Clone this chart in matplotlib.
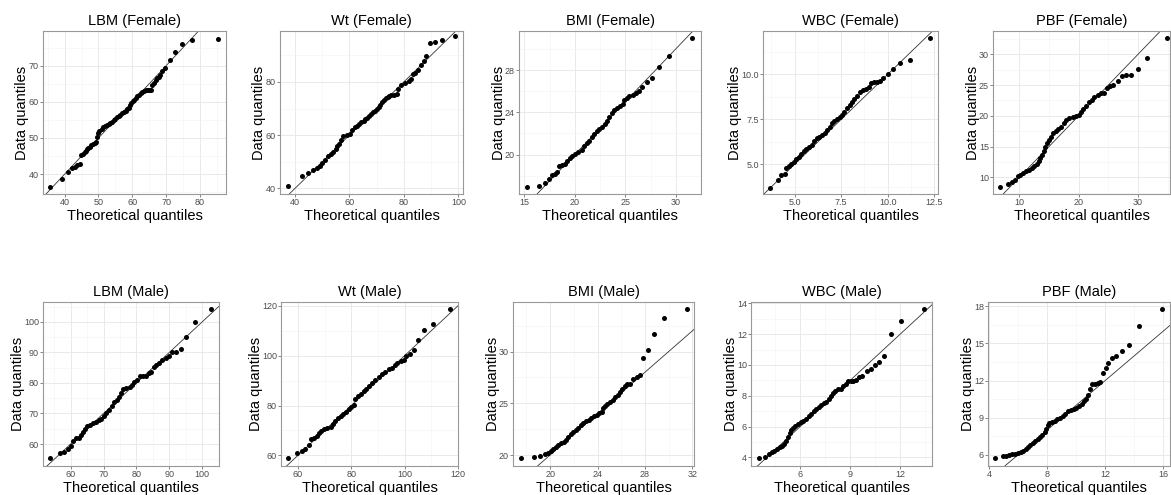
import matplotlib.pyplot as plt

plt.rcParams['font.family'] = ['Liberation Sans', 'DejaVu Sans']

# theoretical vs. data quantiles for each variable
lbm_f_theo = [35.8, 39.2, 41.0, 42.3, 43.0, 43.7, 44.4, 44.9, 45.4, 45.9, 46.3, 46.6, 47.0, 47.4, 47.9, 48.4,
              48.9, 49.4, 49.7, 50.0, 50.3, 50.9, 51.3, 51.8, 52.4, 53.0, 53.5, 54.0, 54.5, 55.0, 55.5, 56.0,
              56.5, 57.0, 57.5, 58.0, 58.5, 58.9, 59.3, 59.7, 60.1, 60.5, 61.0, 61.5, 62.0, 62.5, 63.0, 63.5,
              64.0, 64.5, 65.0, 65.5, 65.8, 66.4, 67.0, 67.4, 67.8, 68.3, 68.8, 69.8, 71.1, 72.5, 74.6, 77.7, 85.2]
lbm_f_data = [36.4, 38.7, 40.6, 41.7, 42.0, 42.4, 42.8, 45.3, 45.7, 46.1, 46.5, 46.9, 47.2, 47.5, 48.0, 48.4,
              48.7, 48.9, 50.3, 51.4, 51.9, 52.6, 53.0, 53.3, 53.5, 53.8, 54.1, 54.5, 54.9, 55.3, 55.7, 56.0,
              56.4, 56.8, 57.2, 57.6, 57.9, 58.4, 59.0, 59.6, 60.1, 60.5, 61.2, 61.6, 62.0, 62.4, 62.8, 63.1,
              63.2, 63.2, 63.3, 63.4, 64.6, 65.3, 66.1, 66.6, 67.0, 67.5, 68.6, 69.4, 71.6, 73.7, 75.9, 77.0, 77.5]

wt_f_theo = [37.5, 42.5, 44.9, 46.7, 48.1, 49.2, 50.1, 51.0, 52.0, 53.3, 54.1, 55.0, 55.5, 56.0, 56.9, 57.8,
             59.0, 60.2, 61.1, 62.1, 62.9, 63.6, 64.4, 65.2, 65.8, 66.4, 67.2, 68.0, 68.7, 69.4, 70.1, 70.7,
             71.3, 71.9, 72.7, 73.4, 74.0, 74.6, 75.4, 76.2, 77.4, 78.0, 79.0, 80.5, 81.7, 82.6, 83.3, 84.2,
             85.2, 86.3, 87.2, 88.2, 89.7, 91.3, 94.0, 98.8]
wt_f_data = [41.0, 44.5, 45.7, 46.8, 47.5, 48.6, 49.6, 50.7, 52.1, 52.8, 53.6, 54.8, 55.8, 56.7, 58.0, 59.5,
             60.1, 60.5, 61.8, 63.0, 63.6, 64.2, 64.8, 65.3, 65.9, 66.5, 67.2, 67.8, 68.5, 69.1, 69.9, 70.6,
             71.5, 72.5, 73.3, 74.0, 74.3, 74.6, 74.9, 75.2, 75.6, 77.5, 79.0, 79.5, 80.4, 80.9, 83.1, 83.5,
             84.4, 86.5, 87.8, 89.7, 94.7, 94.8, 95.7, 97.4]

bmi_f_theo = [15.23, 16.45, 17.0, 17.44, 17.77, 18.04, 18.27, 18.44, 18.7, 19.03, 19.26, 19.53, 19.76, 20.02,
              20.35, 20.68, 20.95, 21.18, 21.44, 21.67, 21.9, 22.17, 22.43, 22.7, 22.96, 23.23, 23.42, 23.66,
              23.89, 24.15, 24.48, 24.75, 24.88, 25.14, 25.41, 25.74, 26.03, 26.36, 26.7, 27.12, 27.62, 28.31,
              29.34, 31.65]
bmi_f_data = [16.9, 17.0, 17.33, 17.68, 18.1, 18.2, 18.3, 18.9, 19.0, 19.1, 19.36, 19.65, 19.9, 20.06,
              20.2, 20.47, 20.8, 21.07, 21.32, 21.64, 21.96, 22.2, 22.43, 22.65, 22.9, 23.22, 23.54, 23.92,
              24.23, 24.42, 24.55, 24.74, 25.12, 25.34, 25.5, 25.66, 25.82, 25.97, 26.39, 26.86, 27.27, 28.28,
              29.3, 31.04]

wbc_f_theo = [3.69, 4.10, 4.28, 4.46, 4.55, 4.68, 4.80, 4.95, 5.09, 5.22, 5.36, 5.48, 5.63, 5.79, 5.93, 6.06,
              6.20, 6.33, 6.47, 6.61, 6.74, 6.88, 7.01, 7.13, 7.28, 7.42, 7.54, 7.67, 7.81, 7.96, 8.08, 8.21,
              8.35, 8.49, 8.67, 8.84, 8.98, 9.12, 9.28, 9.43, 9.61, 9.75, 10.0, 10.27, 10.65, 11.18, 12.29]
wbc_f_data = [3.68, 4.15, 4.41, 4.44, 4.80, 4.93, 5.02, 5.11, 5.28, 5.43, 5.58, 5.76, 5.85, 5.95, 6.10, 6.32,
              6.47, 6.51, 6.65, 6.73, 6.91, 7.10, 7.29, 7.43, 7.53, 7.62, 7.75, 7.90, 8.14, 8.33, 8.46, 8.64,
              8.83, 9.01, 9.11, 9.20, 9.33, 9.55, 9.57, 9.59, 9.61, 9.80, 10.0, 10.28, 10.63, 10.78, 12.04]

pbf_f_theo = [6.8, 8.03, 8.71, 9.27, 9.72, 10.17, 10.67, 11.12, 11.57, 12.08, 12.53, 12.92, 13.26, 13.54,
              13.82, 14.1, 14.38, 14.66, 14.94, 15.34, 15.73, 16.18, 16.57, 17.02, 17.47, 17.92, 18.43, 18.99,
              19.55, 20.0, 20.39, 20.79, 21.24, 21.69, 22.19, 22.64, 23.2, 23.76, 24.33, 24.78, 25.28, 25.84,
              26.69, 27.3, 27.98, 28.82, 30.0, 31.52, 34.83]
pbf_f_data = [8.37, 8.86, 9.18, 9.62, 10.16, 10.43, 10.71, 10.98, 11.2, 11.47, 11.8, 12.17, 12.61, 13.1,
              13.7, 14.35, 14.89, 15.54, 16.09, 16.63, 17.17, 17.61, 17.88, 18.26, 18.8, 19.35, 19.62, 19.78,
              19.95, 20.16, 20.6, 21.14, 21.52, 22.23, 22.61, 23.04, 23.37, 23.7, 23.72, 24.57, 24.84, 25.05,
              25.6, 26.52, 26.63, 26.68, 27.55, 29.35, 32.66]

lbm_m_theo = [53.8, 56.7, 58.0, 59.3, 60.1, 60.7, 61.5, 62.4, 63.0, 63.7, 64.5, 65.1, 66.0, 66.8, 67.8, 68.6,
              69.3, 70.0, 70.8, 71.6, 72.5, 73.3, 74.1, 74.7, 75.2, 75.9, 76.9, 77.9, 78.7, 79.4, 80.3, 81.0,
              82.0, 83.0, 83.8, 84.5, 85.3, 86.0, 86.8, 87.7, 88.9, 89.9, 90.9, 91.9, 93.4, 95.0, 97.7, 102.7]
lbm_m_data = [55.4, 57.2, 57.5, 58.4, 59.3, 61.1, 61.9, 62.1, 62.9, 64.0, 64.9, 65.9, 66.3, 67.0, 67.2, 67.8,
              68.3, 69.3, 70.2, 71.3, 72.4, 73.8, 74.4, 75.5, 76.8, 77.9, 78.2, 78.7, 79.3, 80.2, 81.1, 82.2,
              82.3, 82.3, 83.1, 83.7, 85.1, 85.8, 86.6, 87.5, 88.1, 88.8, 90.0, 90.2, 91.0, 94.9, 100.0, 104.3]

wt_m_theo = [56.2, 59.7, 61.5, 62.8, 64.0, 65.0, 66.1, 67.1, 68.0, 68.8, 69.6, 70.9, 72.2, 73.2, 74.0, 75.0,
             76.0, 77.0, 78.0, 79.0, 79.9, 80.9, 81.5, 82.6, 83.6, 84.6, 85.7, 86.8, 87.9, 89.1, 90.3, 91.6,
             92.8, 94.1, 95.3, 96.3, 97.3, 98.5, 99.7, 100.7, 101.9, 103.5, 105.1, 107.4, 110.6, 117.0]
wt_m_data = [59.0, 61.0, 61.6, 62.5, 64.0, 66.7, 66.8, 67.7, 68.8, 69.6, 70.4, 70.8, 71.5, 72.4, 73.7, 74.8,
             75.6, 76.6, 77.5, 78.6, 79.5, 80.4, 82.8, 83.9, 84.8, 85.8, 86.8, 87.9, 89.1, 90.2, 91.3, 92.5,
             93.5, 94.5, 94.9, 96.2, 97.1, 97.8, 98.2, 99.8, 100.9, 102.2, 106.5, 110.2, 112.6, 118.8]

bmi_m_theo = [17.52, 18.62, 19.18, 19.55, 19.80, 20.06, 20.25, 20.48, 20.70, 20.96, 21.18, 21.38, 21.55,
              21.75, 21.94, 22.17, 22.37, 22.59, 22.79, 23.01, 23.24, 23.46, 23.69, 23.92, 24.14, 24.34,
              24.48, 24.62, 24.82, 25.04, 25.27, 25.49, 25.69, 25.89, 26.08, 26.28, 26.51, 26.73, 27.01,
              27.30, 27.58, 27.80, 28.25, 28.79, 29.61, 31.52]
bmi_m_data = [19.71, 19.84, 19.94, 20.13, 20.23, 20.42, 20.61, 20.80, 20.96, 21.13, 21.25, 21.45, 21.74,
              21.99, 22.22, 22.41, 22.60, 22.86, 23.05, 23.25, 23.41, 23.57, 23.76, 23.89, 24.02, 24.18,
              24.50, 24.76, 24.98, 25.14, 25.34, 25.59, 25.82, 26.11, 26.40, 26.66, 26.82, 26.88, 27.33,
              27.56, 27.78, 29.39, 30.13, 31.67, 33.22, 34.12]

wbc_m_theo = [3.51, 3.91, 4.15, 4.31, 4.45, 4.61, 4.76, 4.90, 5.02, 5.12, 5.24, 5.36, 5.46, 5.54, 5.70, 5.86,
              6.02, 6.18, 6.34, 6.50, 6.66, 6.80, 6.94, 7.10, 7.25, 7.41, 7.57, 7.73, 7.83, 7.97, 8.11, 8.27,
              8.43, 8.59, 8.73, 8.87, 9.03, 9.19, 9.35, 9.53, 9.71, 9.98, 10.22, 10.48, 10.72, 11.00, 11.44,
              12.06, 13.43]
wbc_m_data = [3.96, 4.04, 4.19, 4.32, 4.41, 4.52, 4.65, 4.76, 4.86, 5.08, 5.30, 5.56, 5.77, 5.88, 6.03, 6.16,
              6.27, 6.38, 6.51, 6.66, 6.81, 6.98, 7.17, 7.28, 7.39, 7.50, 7.61, 7.78, 8.00, 8.19, 8.34, 8.41,
              8.47, 8.62, 8.79, 8.95, 8.97, 8.97, 9.03, 9.23, 9.31, 9.59, 9.77, 10.00, 10.18, 10.61, 11.99,
              12.83, 13.63]

pbf_m_theo = [4.44, 4.97, 5.20, 5.40, 5.59, 5.77, 6.00, 6.18, 6.37, 6.53, 6.69, 6.85, 7.01, 7.17, 7.36, 7.52,
              7.68, 7.84, 7.95, 8.05, 8.16, 8.34, 8.53, 8.71, 8.90, 9.08, 9.26, 9.45, 9.63, 9.82, 10.00, 10.18,
              10.37, 10.55, 10.71, 10.83, 10.94, 11.10, 11.33, 11.52, 11.66, 11.82, 12.02, 12.21, 12.44, 12.76,
              13.13, 13.63, 14.34, 15.89]
pbf_m_data = [5.73, 5.87, 5.92, 5.97, 6.03, 6.05, 6.11, 6.22, 6.32, 6.46, 6.62, 6.81, 6.97, 7.13, 7.29, 7.43,
              7.59, 7.80, 8.05, 8.40, 8.58, 8.66, 8.75, 8.85, 9.01, 9.15, 9.31, 9.50, 9.58, 9.66, 9.79, 9.98,
              10.14, 10.36, 10.47, 10.82, 11.35, 11.70, 11.76, 11.84, 11.92, 12.57, 13.05, 13.43, 13.86, 13.96,
              14.37, 14.85, 16.41, 17.78]

titles = ["LBM (Female)", "Wt (Female)", "BMI (Female)", "WBC (Female)", "PBF (Female)",
          "LBM (Male)", "Wt (Male)", "BMI (Male)", "WBC (Male)", "PBF (Male)"]
theo = [lbm_f_theo, wt_f_theo, bmi_f_theo, wbc_f_theo, pbf_f_theo,
        lbm_m_theo, wt_m_theo, bmi_m_theo, wbc_m_theo, pbf_m_theo]
data = [lbm_f_data, wt_f_data, bmi_f_data, wbc_f_data, pbf_f_data,
        lbm_m_data, wt_m_data, bmi_m_data, wbc_m_data, pbf_m_data]
xticks = [[40, 50, 60, 70, 80], [40, 60, 80, 100], [15, 20, 25, 30], [5.0, 7.5, 10.0, 12.5], [10, 20, 30],
          [60, 70, 80, 90, 100], [60, 80, 100, 120], [20, 24, 28, 32], [6, 9, 12], [4, 8, 12, 16]]
yticks = [[40, 50, 60, 70], [40, 60, 80], [20, 24, 28], [5.0, 7.5, 10.0], [10, 15, 20, 25, 30],
          [60, 70, 80, 90, 100], [60, 80, 100, 120], [20, 25, 30], [4, 6, 8, 10, 12, 14], [6, 9, 12, 15, 18]]

# axis ranges and panel boxes (left, right, top, bottom in pixels)
xlims = [(33.6, 87.7), (34.5, 101.7), (14.47, 32.5), (3.30, 12.71), (5.56, 35.4),
         (51.6, 105.1), (53.6, 120.1), (16.87, 32.14), (3.05, 13.91), (3.93, 16.46)]
ylims = [(34.5, 79.6), (37.9, 99.1), (16.26, 31.7), (3.35, 12.42), (7.28, 33.8),
         (52.8, 106.5), (55.7, 121.6), (18.94, 34.79), (3.44, 14.09), (5.09, 18.35)]
boxes = [(43, 226, 31, 194), (280, 463, 31, 194), (519, 701, 31, 194), (763, 938, 31, 194), (993, 1170, 31, 194),
         (43, 219, 302, 466), (281, 458, 302, 466), (513, 694, 302, 466), (751, 932, 302, 466), (988, 1170, 302, 466)]

W, H = 1171, 495
fig = plt.figure(figsize=(W / 100, H / 100), dpi=100)


def minor_ticks(major, lo, hi):
    step = major[1] - major[0]
    mids = [m - step / 2 for m in major] + [major[-1] + step / 2]
    return [m for m in mids if lo <= m <= hi]


for i in range(10):
    l, r, t, b = boxes[i]
    ax = fig.add_axes([l / W, (H - b) / H, (r - l) / W, (b - t) / H])
    ax.set_xlim(*xlims[i])
    ax.set_ylim(*ylims[i])

    fmt = '{:.1f}' if i == 3 else '{:g}'
    ax.set_xticks(xticks[i])
    ax.set_xticklabels([fmt.format(v) for v in xticks[i]])
    ax.set_yticks(yticks[i])
    ax.set_yticklabels([fmt.format(v) for v in yticks[i]])
    ax.set_xticks(minor_ticks(xticks[i], *xlims[i]), minor=True)
    ax.set_yticks(minor_ticks(yticks[i], *ylims[i]), minor=True)

    ax.grid(which='major', color='#e6e6e6', lw=0.6)
    ax.grid(which='minor', color='#f3f3f3', lw=0.4)
    ax.set_axisbelow(True)
    ax.tick_params(which='major', length=2, width=0.5, color='#555555',
                   labelsize=6.5, labelcolor='#4d4d4d', pad=1)
    ax.tick_params(which='minor', length=0)
    for sp in ax.spines.values():
        sp.set_color('#999999')
        sp.set_linewidth(0.8)

    # reference line y = x
    lo = min(xlims[i][0], ylims[i][0])
    hi = max(xlims[i][1], ylims[i][1])
    ax.plot([lo, hi], [lo, hi], color='#333333', lw=0.6, zorder=2)
    ax.scatter(theo[i], data[i], s=13, color='black', linewidths=0, zorder=3)

    ax.set_title(titles[i], fontsize=10.5, pad=4)
    ax.set_xlabel("Theoretical quantiles", fontsize=10.5, labelpad=1)
    ax.set_ylabel("Data quantiles", fontsize=10.5, labelpad=-0.5)

fig.savefig("out.png", dpi=100, facecolor='white')
